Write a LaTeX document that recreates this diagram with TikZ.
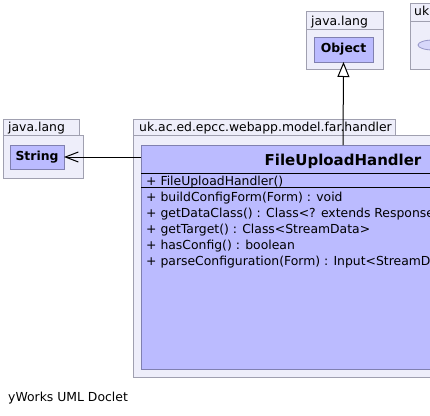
\documentclass[tikz,border=0pt]{standalone}
\usepackage{fontspec}
\setmainfont{DejaVu Sans}
\usetikzlibrary{arrows.meta, shapes.geometric}

\definecolor{pkgfill}{RGB}{238,238,250}
\definecolor{pkgline}{RGB}{160,160,176}
\definecolor{classfill}{RGB}{187,187,255}
\definecolor{classline}{RGB}{128,128,176}
\definecolor{ovalfill}{RGB}{215,215,250}
\definecolor{ovalline}{RGB}{150,150,200}

\begin{document}
\begin{tikzpicture}
  [x=1pt, y=-1pt]
  \tikzstyle{box} = [inner sep=0pt, outer sep=0pt, line width=1pt];
  \tikzstyle{pkg_box}   = [box, draw=pkgline, fill=pkgfill];
  \tikzstyle{class_box} = [box, draw=classline, fill=classfill];
  \tikzstyle{txt} = [inner sep=0pt, anchor=base west, font=\fontsize{12.4}{14}\selectfont];
  \tikzstyle{sep_line} = [line width=1pt, draw=black];

  \clip (0, 0) rectangle (430, 415);

  % java.lang (String)
  \node[pkg_box, minimum width=76pt, minimum height=16pt] (str_tab) at (41, 127) {};
  \node[pkg_box, minimum width=80pt, minimum height=43pt] (str_pkg) at (43, 156.5) {};
  \node[txt] (str_lbl) at (8, 131) {java.lang};
  \node[class_box, minimum width=54pt, minimum height=24pt,
        font=\fontsize{12.4}{14}\selectfont\bfseries] (str_cls) at (37, 157) {String};

  % java.lang (Object)
  \node[pkg_box, minimum width=77pt, minimum height=18pt] (obj_tab) at (344.5, 20) {};
  \node[pkg_box, minimum width=77pt, minimum height=40pt] (obj_pkg) at (344.5, 49) {};
  \node[txt] (obj_lbl) at (311, 25) {java.lang};
  \node[class_box, minimum width=59pt, minimum height=25pt,
        font=\fontsize{12.4}{14}\selectfont\bfseries] (obj_cls) at (343.5, 49.5) {Object};

  % uk...
  \node[pkg_box, minimum width=50pt, minimum height=18pt] (uk_tab) at (435, 12) {};
  \node[pkg_box, minimum width=50pt, minimum height=48pt] (uk_pkg) at (435, 45) {};
  \node[txt] (uk_lbl) at (414, 16) {uk};
  \node[box, ellipse, draw=ovalline, fill=ovalfill, line width=0.8pt,
        minimum width=30pt, minimum height=10pt] (uk_oval) at (433, 45) {};

  % uk.ac.ed.epcc.webapp.model.far.handler
  \node[pkg_box, minimum width=262pt, minimum height=16pt] (fh_tab) at (264, 127) {};
  \node[pkg_box, minimum width=420pt, minimum height=242pt] (fh_pkg) at (343, 256) {};
  \node[txt] (fh_lbl) at (139, 131) {uk.ac.ed.epcc.webapp.model.far.handler};

  \node[class_box, minimum width=404pt, minimum height=224pt] (fh_cls) at (343, 257) {};
  \node[inner sep=0pt, anchor=base, font=\fontsize{15}{18}\selectfont\bfseries] (fh_name) at (343, 165) {FileUploadHandler};
  \draw[sep_line] ([yshift=-28pt]fh_cls.north west) -- ([yshift=-28pt]fh_cls.north east);
  \draw[sep_line] ([yshift=-42pt]fh_cls.north west) -- ([yshift=-42pt]fh_cls.north east);

  \node[txt] (ctor) at (146, 185) {+ FileUploadHandler()};
  \node[txt] (m1) at (146, 201) {+ buildConfigForm(Form) : void};
  \node[txt] (m2) at (146, 217) {+ getDataClass() : Class<? extends ResponseData>};
  \node[txt] (m3) at (146, 233) {+ getTarget() : Class<StreamData>};
  \node[txt] (m4) at (146, 249) {+ hasConfig() : boolean};
  \node[txt] (m5) at (146, 265) {+ parseConfiguration(Form) : Input<StreamData>};

  % relations
  \draw[line width=1pt, -{Triangle[length=15pt, width=12pt, fill=white]}]
    (fh_cls.north) -- (obj_cls.south);
  \draw[line width=1pt, -{Straight Barb[length=13pt, width=10pt]}]
    (fh_cls.west |- str_cls.east) -- (str_cls.east);

  \node[txt] (doclet) at (8, 401) {yWorks UML Doclet};

\end{tikzpicture}
\end{document}
